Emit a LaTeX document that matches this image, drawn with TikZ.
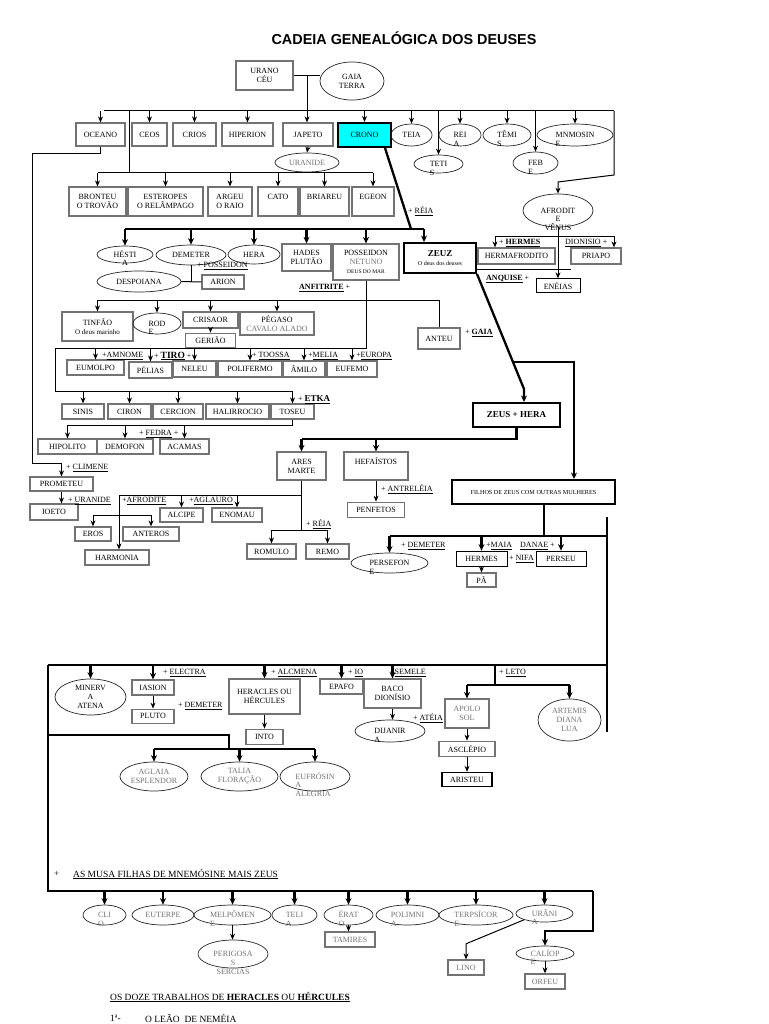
\documentclass[tikz,border=0pt]{standalone}
\usepackage{fontspec}
\setmainfont{Liberation Serif}
\newfontfamily\titlefont{Liberation Sans}
\usetikzlibrary{positioning,arrows.meta,shapes.geometric}
\definecolor{cronocyan}{RGB}{0,255,255}
\newcommand\fs{\fontsize{8}{8.8}\selectfont}
\newcommand\vlft[1]{\vtop{\halign{##\hfil\cr#1\crcr}}}
\newcommand\vctr[1]{\vtop{\halign{\hfil##\hfil\cr#1\crcr}}}

\begin{document}
\begin{tikzpicture}[x=1pt,y=-1pt,
  box/.style={rectangle,draw=black!55,line width=1.2pt,inner sep=1pt,font=\fs,align=center},
  bbox/.style={box,draw=black,line width=2pt},
  ell/.style={ellipse,draw=black!85,line width=0.7pt,inner sep=0pt,font=\fs,align=center},
  ellh/.style={ellipse,draw=black!85,line width=0.7pt,inner sep=0pt,font=\fs,text height=5.6pt,text depth=0.5pt},
  sz/.style 2 args={minimum width=#1pt,minimum height=#2pt},
  gtext/.style={text=black!55},
  txtup/.style={text depth=9pt},
  lab/.style={font=\fs,inner sep=0pt,anchor=west},
  arr/.style={-{Stealth[length=6pt,width=5pt]},line width=1pt},
  ln/.style={line width=1pt},
  tk/.style={line width=2.3pt},
  tkarr/.style={-{Stealth[length=6.5pt,width=6pt]},line width=2.3pt}
]
\fill[white] (0,0) rectangle (768,1024);
\useasboundingbox (0,0) rectangle (768,1024);

\node[font=\titlefont\bfseries\fontsize{14.4}{17}\selectfont] (title) at (404,38) {CADEIA GENEALÓGICA DOS DEUSES};

% Urano e Gaia
\node[box,sz={57}{29}] (urano) at (264.5,75.5) {URANO\\CÉU};
\node[ell,sz={64}{38}] (gaia) at (352,81) {GAIA\\TERRA};

\node[box,sz={49}{23}] (oceano) at (100.5,134.5) {OCEANO};
\node[box,sz={35}{23}] (ceos) at (149.5,134.5) {CEOS};
\node[box,sz={43}{23}] (crios) at (194.5,134.5) {CRIOS};
\node[box,sz={51}{23}] (hiperion) at (247.5,134.5) {HIPERION};
\node[box,sz={50}{23}] (japeto) at (308,134.5) {JAPETO};
\node[bbox,sz={53}{24},fill=cronocyan] (crono) at (364.5,135) {CRONO};
\node[ell,sz={41}{22}] (teia) at (411.5,135) {TEIA};
\node[ellh,sz={42}{22}] (reia) at (460,135) {\vlft{REI\cr A}};
\node[ellh,sz={48}{22}] (temis) at (507,135) {\vlft{TÊMI\cr S}};
\node[ellh,sz={76}{22}] (mnemosine) at (575,135) {\vlft{MNMOSIN\cr E}};
\node[ellh,sz={49}{18}] (tetis) at (438.5,164) {\vlft{TETI\cr S}};
\node[ellh,sz={45}{22}] (febe) at (535.5,163) {\vlft{FEB\cr E}};
\node[ell,sz={64}{19},gtext] (uranide) at (307,162.5) {URANIDE};

\node[box,sz={57}{29}] (bronteu) at (97.5,201.5) {BRONTEU\\O TROVÃO};
\node[box,sz={75}{29}] (esteropes) at (165.5,201.5) {ESTEROPES\\O RELÂMPAGO};
\node[box,sz={44}{29}] (argeu) at (230,201.5) {ARGEU\\O RAIO};
\node[box,sz={40}{29},txtup] (cato) at (278,201.5) {CATO};
\node[box,sz={49}{29},txtup] (briareu) at (324.5,201.5) {BRIAREU};
\node[box,sz={42}{29},txtup] (egeon) at (373,201.5) {EGEON};

\coordinate (ug) at (307,75.5);
\coordinate (b1) at (104,111);
\coordinate (b1r) at (614,111);
\coordinate (b2) at (129,111);
\coordinate (b2l) at (97.5,173);
\coordinate (b2r) at (373,173);
\draw[ln] (urano.east) -- (urano.east -| gaia.west);
\draw[arr] (ug) -- (ug |- japeto.north);
\draw[ln] (b1) -- (b1r);
\foreach \n in {oceano,ceos,crios,hiperion,crono,teia,reia,temis,mnemosine,tetis,febe}
  \draw[arr] (\n.north |- b1) -- (\n.north);
\draw[arr] (japeto.south) -- (uranide.north);
\draw[ln] (b2) -- (b2 |- b2l);
\draw[ln] (b2l) -- (b2r);
\foreach \n in {bronteu,esteropes,argeu,cato,briareu,egeon}
  \draw[arr] (\n.north |- b2l) -- (\n.north);

% filhos de Crono
\node[ellh,sz={56}{17}] (hestia) at (125,254.5) {\vctr{HÉSTI\cr A}};
\node[ell,sz={70}{20}] (demeter) at (191,255) {DEMETER};
\node[ell,sz={52}{19}] (hera) at (254,254.5) {HERA};
\node[box,sz={49}{27}] (hades) at (306.5,257.5) {HADES\\PLUTÃO};
\node[box,sz={66}{36}] (posseidon) at (366,262) {POSSEIDON\\{\color{black!55}NETUNO}\\{\fontsize{5.5}{6.5}\selectfont DEUS DO MAR}};
\node[bbox,sz={72}{30}] (zeuz) at (440,258) {{\fontsize{9}{10}\selectfont\bfseries ZEUZ}\\{\fontsize{6}{7}\selectfont O deus dos deuses}};

\coordinate (cz) at (411,229);
\coordinate (b3l) at (125,229);
\coordinate (b3r) at (424,229);
\draw[tk] ([xshift=-7pt]crono.south east) -- (cz);
\draw[tk] (b3l) -- (b3r);
\foreach \n in {hestia,demeter,hera,hades,posseidon}
  \draw[tkarr] (\n.north |- b3l) -- (\n.north);
\draw[tkarr] (b3r) -- (b3r |- zeuz.north);
\node[lab] (lreia) at (408,211) {+ \underline{RÉIA}};

% Afrodite
\node[ellh,sz={70}{33}] (afrodite) at (558,210.5) {\vctr{AFRODIT\cr E\cr VÊNUS}};
\node[box,sz={77}{16}] (hermafrodito) at (516.5,256) {HERMAFRODITO};
\node[box,sz={50}{16}] (priapo) at (596,256) {PRIAPO};
\node[box,sz={44}{14},draw=black,line width=0.8pt,below=51pt of afrodite] (eneias) {ENÉIAS};
\coordinate (hl) at (495,236);
\coordinate (hr) at (614,236);
\coordinate (zl) at (476,269);
\draw[arr] (b1r) -- ++(0,64) -- ++(-56,7) -- (afrodite.north);
\draw[ln] (hl) -- (hr);
\draw[arr] (hl) -- (hl |- hermafrodito.north);
\draw[arr] (hr) -- (hr |- priapo.north);
\draw[arr] (afrodite.south) -- (eneias.north);
\draw[ln] (zl) -- ++(95,0);
\node[lab] (lhermes) at (499,243) {+ \underline{\textbf{HERMES}}};
\node[lab] (ldionisio) at (565,243) {\underline{DIONISIO} +};
\node[lab] (lanquise) at (486,279) {\underline{\textbf{ANQUISE}} +};

% Demeter e Posseidon
\node[ell,sz={84}{21}] (despoina) at (139,281.5) {DESPOIANA};
\node[box,sz={42}{14}] (arion) at (223,282) {ARION};
\draw[ln] (demeter.south) -- (demeter.south |- arion.west);
\draw[ln] (despoina.east) -- (arion.west);
\node[lab] (lposs) at (197,266) {+ \underline{POSSEIDON}};

\node[box,sz={71}{29}] (tinfao) at (97.5,326.5) {TINFÃO\\{\fontsize{7}{8}\selectfont O deus marinho}};
\node[ellh,sz={48}{21}] (rode) at (157,323.5) {\vlft{ROD\cr E}};
\node[box,sz={55}{16}] (crisaor) at (210.5,320) {CRISAOR};
\node[box,sz={50}{14},below=4pt of crisaor] (geriao) {GERIÃO};
\node[box,sz={74}{23}] (pegaso) at (277,323.5) {PÉGASO\\{\color{black!55}CAVALO ALADO}};
\node[box,sz={42}{21}] (anteu) at (439,338.5) {ANTEU};
\coordinate (pb) at (97.5,300);
\draw[ln] (pb) -- (pb -| anteu.north) -- (anteu.north);
\foreach \n in {tinfao,rode,crisaor,pegaso}
  \draw[arr] (\n.north |- pb) -- (\n.north);
\draw[arr] (crisaor.south) -- (crisaor.south |- geriao.north);
\node[lab] (lanfi) at (299,288) {\underline{\textbf{ANFITRITE}} +};
\node[lab] (lgaia) at (465,333) {+ \underline{\textbf{GAIA}}};

% Tiro
\node[box,sz={57}{15}] (eumolpo) at (95.5,367.5) {EUMOLPO};
\node[box,sz={43}{16}] (pelias) at (150.5,370) {PÉLIAS};
\node[box,sz={43}{16}] (neleu) at (194.5,369) {NELEU};
\node[box,sz={64}{16}] (polifermo) at (250,369) {POLIFERMO};
\node[box,sz={42}{16}] (amilo) at (304,369) {ÂMILO};
\node[box,sz={50}{16}] (eufemo) at (352,369) {EUFEMO};
\node[box,sz={42}{15}] (sinis) at (83,411.5) {SINIS};
\node[box,sz={43}{15}] (ciron) at (129.5,411.5) {CIRON};
\node[box,sz={50}{15}] (cercion) at (178,411.5) {CERCION};
\node[box,sz={63}{15}] (halirrocio) at (237.5,411.5) {HALIRROCIO};
\node[box,sz={43}{15}] (toseu) at (292.5,411.5) {TOSEU};
\coordinate (tl) at (55,348);
\coordinate (tb) at (55,391);
\draw[ln] (posseidon.south) |- (tl) -- (tb);
\draw[arr] (tb) -| (toseu.north);
\foreach \n in {eumolpo,pelias,neleu,polifermo,amilo,eufemo}
  \draw[arr] (\n.north |- tl) -- (\n.north);
\foreach \n in {sinis,ciron,cercion,halirrocio}
  \draw[arr] (\n.north |- tb) -- (\n.north);
\node[lab] (lamnome) at (102,356) {+\underline{AMNOME}};
\node[lab] (ltiro) at (154,356) {+ \underline{\textbf{\fontsize{9.5}{10}\selectfont TIRO}} +};
\node[lab] (ltoossa) at (252,356) {+ \underline{TOOSSA}};
\node[lab] (lmelia) at (308,356) {+\underline{MELIA}};
\node[lab] (leuropa) at (356,356) {+\underline{EUROPA}};
\node[lab] (letka) at (298,400) {+ \underline{\textbf{\fontsize{9}{10}\selectfont ETKA}}};

\node[box,sz={59}{15}] (hipolito) at (67.5,446.5) {HIPOLITO};
\node[box,sz={56}{15}] (demofon) at (125,446.5) {DEMOFON};
\node[box,sz={49}{15}] (acamas) at (184.5,446.5) {ACAMAS};
\coordinate (fb) at (67.5,425);
\draw[ln] (toseu.south) |- (fb);
\foreach \n in {hipolito,demofon,acamas}
  \draw[arr] (\n.north |- fb) -- (\n.north);
\node[lab] (lfedra) at (139,434) {+ \underline{FEDRA} +};

% Oceano e Climene
\node[box,sz={63}{14}] (prometeu) at (61.5,484) {PROMETEU};
\node[box,sz={48}{16}] (ioeto) at (54,512) {IOETO};
\coordinate (oc) at (32,463);
\draw[arr] (oceano.south) -- ++(0,7) -| (oc) -| (prometeu.north);
\draw[arr] (prometeu.south) -- (prometeu.south |- ioeto.north);
\node[lab] (lclimene) at (66,468) {+ \underline{CLIMENE}};
\node[lab] (luranide) at (68,501) {+ \underline{URANIDE}};

% Zeus e Hera
\node[bbox,sz={87}{24}] (zeushera) at (516.5,415) {\fontsize{9}{10}\selectfont\bfseries ZEUS + HERA};
\node[bbox,sz={163}{24}] (filhos) at (533.5,492) {\fontsize{6.2}{7}\selectfont FILHOS DE ZEUS COM OUTRAS MULHERES};
\coordinate (zd) at (524,389);
\coordinate (zh) at (513,362);
\draw[tkarr] (zeuz.south east) -- (zd) -- (zd |- zeushera.north);
\draw[tkarr] (zh) -| ([xshift=40.5pt]filhos.north);

\node[box,sz={49}{28}] (ares) at (301.5,466) {ARES\\MARTE};
\node[box,sz={64}{28},txtup] (hefaistos) at (376,466) {HEFAÍSTOS};
\node[box,sz={57}{15},below=21pt of hefaistos] (penfetos) {PENFETOS};
\coordinate (zb) at (301.5,439);
\draw[tk] (zeushera.south) |- (zb);
\draw[tkarr] (zb) -- (ares.north);
\draw[tkarr] (hefaistos.north |- zb) -- (hefaistos.north);
\draw[arr] (hefaistos.south) -- (penfetos.north);
\node[lab] (lantre) at (381,489) {+ \underline{ANTRELÉIA}};

\node[box,sz={49}{15}] (romulo) at (271.5,551.5) {ROMULO};
\node[box,sz={43}{15}] (remo) at (327.5,551.5) {REMO};
\node[box,sz={64}{15}] (harmonia) at (117,557.5) {HARMONIA};
\node[box,sz={36}{14}] (eros) at (93,534) {EROS};
\node[box,sz={56}{14}] (anteros) at (151,534) {ANTEROS};
\node[box,sz={43}{14}] (alcipe) at (181.5,515) {ALCIPE};
\node[box,sz={50}{14}] (enomau) at (237,515) {ENOMAU};
\coordinate (ab) at (119,495);
\coordinate (rb) at (271.5,530);
\coordinate (eb) at (93,515);
\draw[ln] (ares.south) -- (ares.south |- rb);
\draw[ln] (ab) -- (ab -| ares.south);
\draw[ln] (rb) -- (rb -| remo.north);
\draw[arr] (rb) -- (romulo.north);
\draw[arr] (remo.north |- rb) -- (remo.north);
\draw[arr] (ab) -- (ab |- harmonia.north);
\draw[ln] (eb) -- (eb -| anteros.north);
\draw[arr] (eb) -- (eros.north);
\draw[arr] (anteros.north |- eb) -- (anteros.north);
\draw[arr] (alcipe.north |- ab) -- (alcipe.north);
\draw[arr] (enomau.north |- ab) -- (enomau.north);
\node[lab] (lreia2) at (306,524) {+ \underline{RÉIA}};
\node[lab] (lafro) at (122,501) {+\underline{AFRODITE}};
\node[lab] (laglauro) at (189,501) {+\underline{AGLAURO}};

% filhos de Zeus com outras mulheres
\node[ellh,sz={77}{20}] (persefone) at (389.5,563) {\vlft{PERSEFON\cr E}};
\node[box,sz={51}{15},draw=black,line width=0.8pt] (hermes) at (481.5,558.5) {HERMES};
\node[box,sz={29}{14},below=6pt of hermes] (pa) {PÃ};
\node[box,sz={50}{15},draw=black,line width=0.8pt] (perseu) at (561,558.5) {PERSEU};
\coordinate (fz) at (389.5,536);
\coordinate (vr) at (607,517);
\coordinate (lb) at (48,665);
\draw[tk] ([xshift=10.5pt]filhos.south) |- (fz);
\draw[tk] (fz) -- (fz -| vr);
\draw[tk] (vr) -- ++(0,215);
\draw[tk] (lb) -- (lb -| vr);
\draw[tkarr] (fz) -- (persefone.north);
\draw[tkarr] (hermes.north |- fz) -- (hermes.north);
\draw[tkarr] (perseu.north |- fz) -- (perseu.north);
\draw[arr] (hermes.south) -- (pa.north);
\node[lab] (ldem2) at (401,546) {+ \underline{DEMETER}};
\node[lab] (lmaia) at (486,546) {+\underline{MAIA}};
\node[lab] (ldanae) at (520,546) {\underline{DANAE} +};
\node[lab] (lnifa) at (509,559) {+ \underline{NIFA}};

\node[ell,sz={71}{36}] (minerva) at (90.5,697) {MINERV\\A\\ATENA};
\node[box,sz={42}{15}] (iasion) at (153,687.5) {IASION};
\node[box,sz={42}{14},below=13pt of iasion] (pluto) {PLUTO};
\node[box,sz={71}{35}] (heracles) at (264.5,696.5) {HERACLES OU\\HÉRCULES};
\node[box,sz={37}{15},below=14pt of heracles] (into) {INTO};
\node[box,sz={43}{15}] (epafo) at (341.5,686.5) {EPAFO};
\node[box,sz={57}{29}] (baco) at (392.5,693.5) {BACO\\DIONÍSIO};
\node[ellh,sz={70}{22}] (dijanira) at (390,731) {\vlft{DIJANIR\cr A}};
\node[box,sz={44}{29},gtext] (apolo) at (467,713.5) {APOLO\\SOL};
\node[box,sz={56}{15},below=12pt of apolo] (asclepio) {ASCLÉPIO};
\node[box,sz={50}{14},draw=black,below=15pt of asclepio] (aristeu) {ARISTEU};
\node[ell,sz={63}{42},gtext] (artemis) at (569.5,720) {ARTEMIS\\DIANA\\LUA};
\coordinate (lt) at (495,665);
\coordinate (la) at (467,685);
\foreach \n in {minerva,iasion,heracles,epafo,baco}
  \draw[tkarr] (\n.north |- lb) -- (\n.north);
\draw[tk] (lt) -- (lt |- la);
\draw[tk] (la) -- (la -| artemis.north);
\draw[tkarr] (la) -- (apolo.north);
\draw[tkarr] (artemis.north |- la) -- (artemis.north);
\draw[arr] (iasion) -- (pluto);
\draw[arr] (heracles.south) -- (heracles.south |- into.north);
\draw[arr] (baco.south) -- (baco.south |- dijanira.north);
\draw[arr] (apolo) -- (asclepio);
\draw[arr] (asclepio) -- (aristeu);
\node[lab] (lelectra) at (163,673) {+ \underline{ELECTRA}};
\node[lab] (ldem3) at (178,706) {+ \underline{DEMETER}};
\node[lab] (lalcmena) at (271,673) {+ \underline{ALCMENA}};
\node[lab] (lio) at (348,673) {+ \underline{IO}};
\node[lab] (lsemele) at (390,673) {+\underline{SEMELE}};
\node[lab] (lateia) at (413,718) {+ \underline{ATÉIA}};
\node[lab] (lleto) at (499,673) {+ \underline{LETO}};

% Graças
\node[ell,sz={68}{29},gtext] (aglaia) at (154,776.5) {AGLAIA\\ESPLENDOR};
\node[ell,sz={77}{29},gtext] (talia) at (239.5,776.5) {TALIA\\FLORAÇÃO};
\node[ellh,sz={70}{29},gtext] (eufrosina) at (315,776.5) {\vlft{EUFRÓSIN\cr A\cr ALEGRIA}};
\coordinate (gb) at (48,735);
\coordinate (gc) at (229,749);
\draw[tk] (gb) -| (gc);
\draw[tk] (aglaia.north |- gc) -- (eufrosina.north |- gc);
\foreach \n in {aglaia,talia,eufrosina}
  \draw[tkarr] (\n.north |- gc) -- (\n.north);

% Musas
\node[lab,font=\fontsize{9}{10}\selectfont] (lplus) at (54,874) {+};
\node[lab,font=\fontsize{9.5}{11}\selectfont] (lmusas) at (73,874) {\underline{AS MUSA FILHAS DE MNEMÓSINE MAIS ZEUS}};
\node[ellh,sz={43}{20},gtext] (clio) at (104.5,915) {\vlft{CLI\cr O}};
\node[ell,sz={62}{20},gtext] (euterpe) at (163,915) {EUTERPE};
\node[ellh,sz={77}{20},gtext] (melpomene) at (232.5,915) {\vlft{MELPÔMEN\cr E}};
\node[ellh,sz={45}{20},gtext] (telia) at (294.5,915) {\vlft{TELI\cr A}};
\node[ellh,sz={49}{20},gtext] (erato) at (348.5,915) {\vlft{ÉRAT\cr O}};
\node[ellh,sz={63}{20},gtext] (polimnia) at (407.5,915) {\vlft{POLIMNI\cr A}};
\node[ellh,sz={74}{20},gtext] (terpsicore) at (476,915) {\vlft{TERPSÍCOR\cr E}};
\node[ellh,sz={57}{17},gtext] (urania) at (544.5,913.5) {\vlft{URÂNI\cr A}};
\node[ellh,sz={58}{15},gtext] (caliope) at (545,953.5) {\vlft{CALÍOP\cr E}};
\node[box,sz={40}{15},gtext,below=12pt of caliope] (orfeu) {ORFEU};
\node[ellh,sz={70}{28},gtext] (perigosas) at (233,954) {\vctr{PERIGOSA\cr S\cr SÉRCIAS}};
\node[box,sz={50}{15},gtext] (tamires) at (350,939.5) {TAMIRES};
\node[box,sz={36}{15},gtext] (lino) at (466,967.5) {LINO};
\coordinate (mr) at (593,891);
\draw[tk] (lb) -- (lb |- mr) -- (mr);
\draw[tkarr] (mr) -- ++(0,40) -| (caliope.north);
\foreach \n in {clio,euterpe,melpomene,telia,erato,polimnia,terpsicore,urania}
  \draw[tkarr] (\n.north |- mr) -- (\n.north);
\draw[arr] (melpomene.south) -- (melpomene.south |- perigosas.north);
\draw[arr] (erato.south) -- (erato.south |- tamires.north);
\draw[arr] (caliope.south) -- (caliope.south |- orfeu.north);
\draw[arr] (urania.south west) -- ++(-58,24) -- (lino.north);

\node[lab,font=\fontsize{9.5}{11}\selectfont] (ltrab) at (110,997) {\underline{OS DOZE TRABALHOS DE \textbf{HERACLES} OU \textbf{HÉRCULES}}};
\node[lab,font=\fontsize{9.5}{11}\selectfont] (lnum) at (110,1018) {1ª-};
\node[lab,font=\fontsize{9.5}{11}\selectfont] (lleao) at (145,1018) {O LEÃO\ \ DE NEMÉIA};
\end{tikzpicture}
\end{document}
